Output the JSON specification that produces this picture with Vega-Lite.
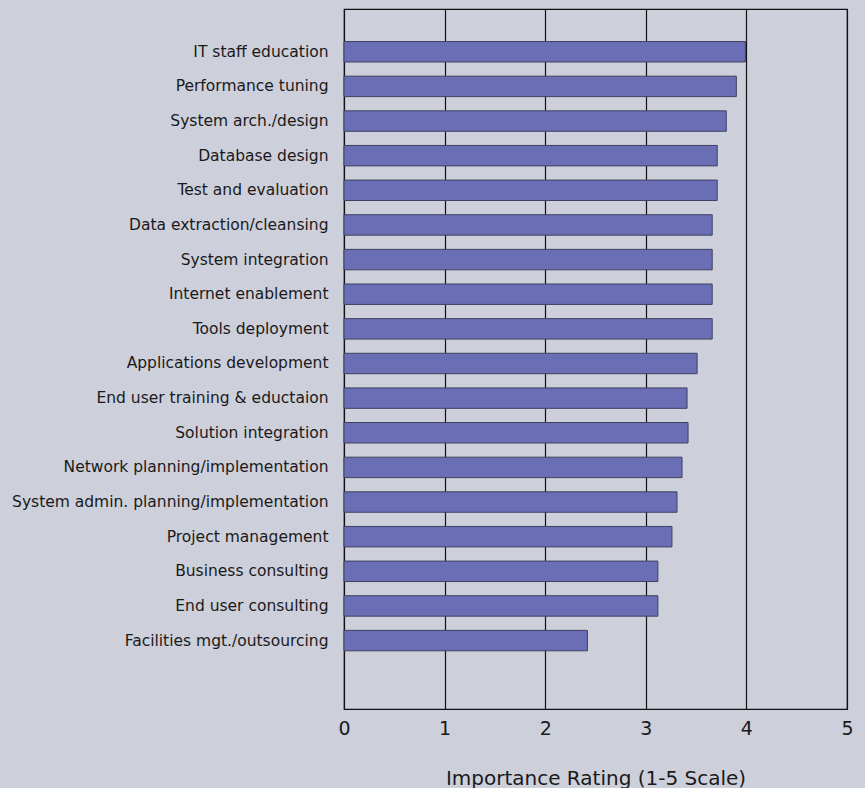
{
  "$schema": "https://vega.github.io/schema/vega-lite/v6.json",
  "autosize": "none",
  "width": 503,
  "height": 700,
  "padding": {"left": 344, "top": 9, "right": 18, "bottom": 79},
  "background": "#cdcfdb",
  "config": {
    "view": {"stroke": "#111111", "strokeWidth": 1.2},
    "font": "DejaVu Sans"
  },
  "data": {
    "values": [
      {"task": "IT staff education", "rating": 3.99},
      {"task": "Performance tuning", "rating": 3.9},
      {"task": "System arch./design", "rating": 3.8},
      {"task": "Database design", "rating": 3.71},
      {"task": "Test and evaluation", "rating": 3.71},
      {"task": "Data extraction/cleansing", "rating": 3.66},
      {"task": "System integration", "rating": 3.66},
      {"task": "Internet enablement", "rating": 3.66},
      {"task": "Tools deployment", "rating": 3.66},
      {"task": "Applications development", "rating": 3.51},
      {"task": "End user training & eductaion", "rating": 3.41},
      {"task": "Solution integration", "rating": 3.42},
      {"task": "Network planning/implementation", "rating": 3.36},
      {"task": "System admin. planning/implementation", "rating": 3.31},
      {"task": "Project management", "rating": 3.26},
      {"task": "Business consulting", "rating": 3.12},
      {"task": "End user consulting", "rating": 3.12},
      {"task": "Facilities mgt./outsourcing", "rating": 2.42}
    ]
  },
  "mark": {"type": "bar", "color": "#6a6eb4", "stroke": "#3f4060", "strokeWidth": 1},
  "encoding": {
    "y": {
      "field": "task",
      "type": "nominal",
      "sort": null,
      "scale": {
        "domain": [
          "IT staff education", "Performance tuning", "System arch./design", "Database design",
          "Test and evaluation", "Data extraction/cleansing", "System integration", "Internet enablement",
          "Tools deployment", "Applications development", "End user training & eductaion", "Solution integration",
          "Network planning/implementation", "System admin. planning/implementation", "Project management",
          "Business consulting", "End user consulting", "Facilities mgt./outsourcing", " "
        ],
        "paddingInner": 0.41,
        "paddingOuter": 0.81,
        "align": 0.58
      },
      "axis": {
        "title": null,
        "ticks": false,
        "domain": false,
        "labelFont": "DejaVu Sans",
        "labelFontSize": 15.5,
        "labelColor": "#1a1a1a",
        "labelPadding": 16,
        "labelLimit": 400
      }
    },
    "x": {
      "field": "rating",
      "type": "quantitative",
      "scale": {"domain": [0, 5], "nice": false},
      "axis": {
        "values": [0, 1, 2, 3, 4, 5],
        "title": "Importance Rating (1-5 Scale)",
        "titleFont": "DejaVu Sans",
        "titleFontSize": 20,
        "titleFontWeight": "normal",
        "titleColor": "#1a1a1a",
        "titlePadding": 30,
        "labelFont": "DejaVu Sans",
        "labelFontSize": 19,
        "labelColor": "#1a1a1a",
        "labelPadding": 10,
        "labelFlush": false,
        "ticks": false,
        "domainColor": "#111111",
        "grid": true,
        "gridColor": "#111111",
        "gridOpacity": 1,
        "gridWidth": 1.2
      }
    }
  }
}
